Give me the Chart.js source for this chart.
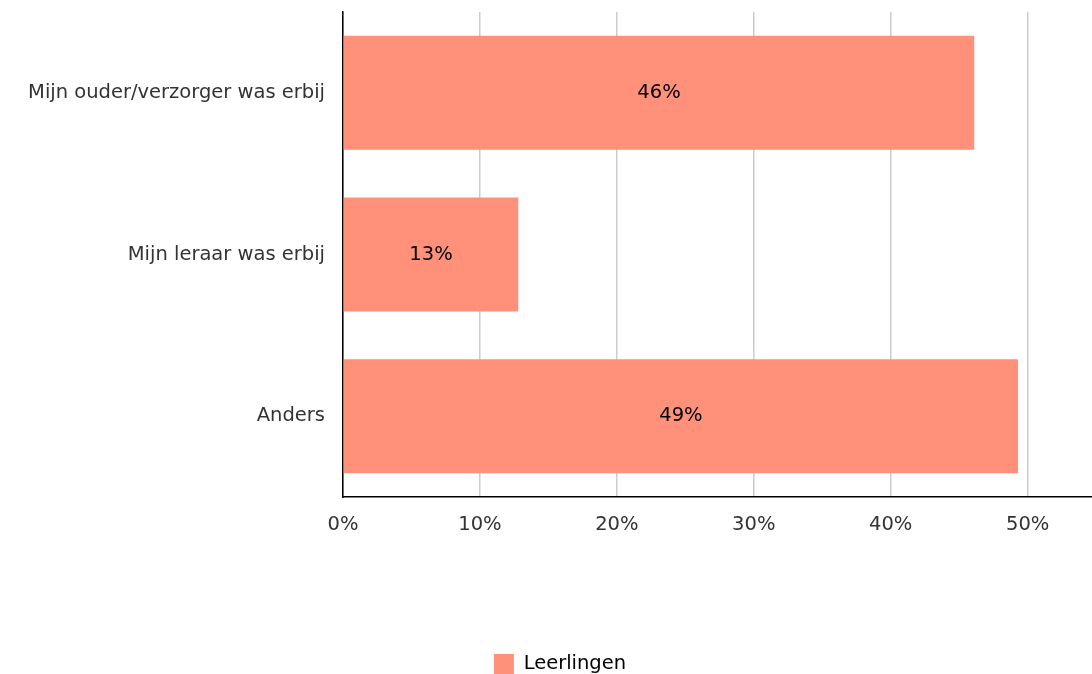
<!DOCTYPE html>
<html>
<head>
<meta charset="utf-8">
<script src="https://cdn.jsdelivr.net/npm/chart.js@4.4.0/dist/chart.umd.min.js"></script>
<style>
  html, body { margin: 0; padding: 0; background: #fff; overflow: hidden; }
</style>
</head>
<body>
<canvas id="miChart" width="1092" height="684"></canvas>
<script>
// Datos del grafico
const categorias = ["Mijn ouder/verzorger was erbij", "Mijn leraar was erbij", "Anders"];
const leerlingen = [46.1, 12.8, 49.3];
const etiquetas = ["46%", "13%", "49%"];
const ticksX = [0, 10, 20, 30, 40, 50];

const fuente = "'DejaVu Sans', Verdana, sans-serif";

// Plugin para escribir el valor dentro de cada barra
const etiquetasBarras = {
    id: 'etiquetasBarras',
    afterLayout(chart) {
        // Mover la leyenda un poco a la derecha
        if (chart.legend) {
            chart.legend.left += 14;
            chart.legend.right += 14;
        }
    },
    afterDatasetsDraw(chart) {
        const ctx = chart.ctx;
        const meta = chart.getDatasetMeta(0);
        ctx.save();
        ctx.font = `19.5px ${fuente}`;
        ctx.fillStyle = '#000';
        ctx.textAlign = 'center';
        ctx.textBaseline = 'middle';
        meta.data.forEach((bar, i) => {
            ctx.fillText(etiquetas[i], (bar.x + bar.base) / 2, bar.y);
        });
        ctx.restore();
    }
};

const miChart = new Chart(document.querySelector("#miChart"), {
    type: 'bar',
    data: {
        labels: categorias,
        datasets: [{
            label: 'Leerlingen',
            data: leerlingen,
            backgroundColor: '#ff917b',
            borderWidth: 0,
            barPercentage: 0.705,
            categoryPercentage: 1
        }]
    },
    options: {
        indexAxis: 'y',
        responsive: false,
        animation: false,
        layout: { padding: { top: 12, left: 0, right: 0, bottom: 0 } },
        scales: {
            x: {
                min: 0,
                max: 54.7,
                afterBuildTicks: (scale) => { scale.ticks = ticksX.map(v => ({ value: v })); },
                afterFit: (scale) => { scale.height = 147; },
                grid: { color: '#cccccc', lineWidth: 1.5, drawTicks: false },
                border: { color: '#000', width: 1.5 },
                ticks: {
                    padding: 16,
                    color: '#333',
                    font: { family: fuente, size: 19.5 },
                    callback: (v) => v + '%'
                }
            },
            y: {
                afterFit: (scale) => {
                    scale.width = 343;
                    scale.paddingTop = 0;
                    scale.paddingBottom = 0;
                },
                grid: { display: false, drawTicks: false },
                border: { color: '#000', width: 1.5 },
                ticks: {
                    padding: 18,
                    color: '#333',
                    font: { family: fuente, size: 19.5 }
                }
            }
        },
        plugins: {
            legend: {
                position: 'bottom',
                labels: {
                    boxWidth: 20,
                    boxHeight: 20,
                    padding: 10,
                    color: '#000',
                    font: { family: fuente, size: 19.5 }
                }
            },
            tooltip: { enabled: false }
        }
    },
    plugins: [etiquetasBarras]
});
</script>
</body>
</html>
